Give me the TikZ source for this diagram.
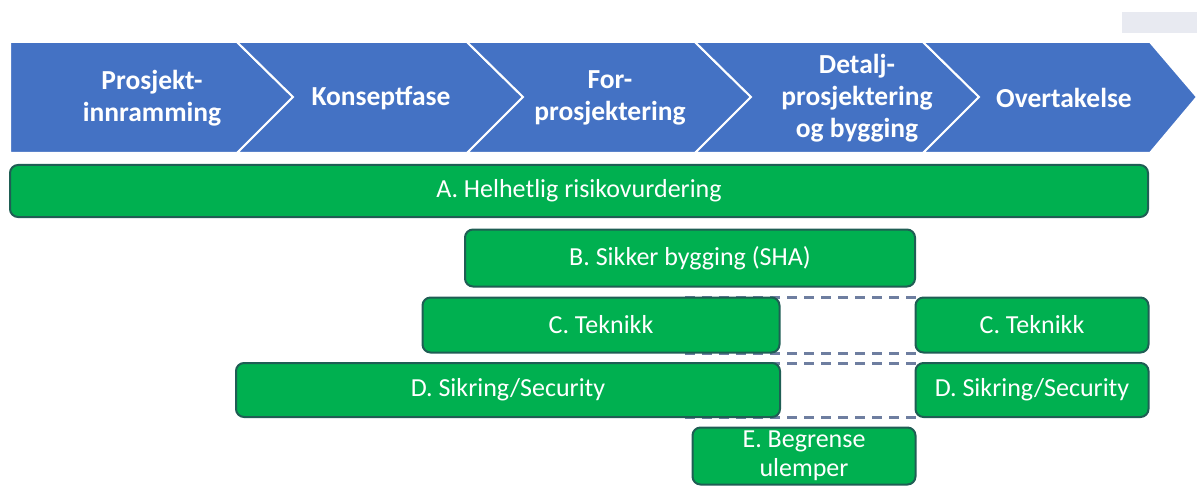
\documentclass[tikz,border=0pt]{standalone}
\usepackage{fontspec}
\setmainfont{Carlito}
\definecolor{phaseblue}{RGB}{68,114,196}
\definecolor{bargreen}{RGB}{0,176,80}
\definecolor{baredge}{RGB}{31,94,84}
\definecolor{dashgrey}{RGB}{110,126,160}
\definecolor{tabgrey}{RGB}{232,234,241}
\tikzset{
  phase/.style={fill=phaseblue, draw=white, line width=2pt, line join=miter},
  phasetext/.style={text=white, font=\bfseries\fontsize{27.5}{32}\selectfont, align=center},
  bar/.style={fill=bargreen, draw=baredge, line width=2pt, rounded corners=8pt,
    text=white, font=\fontsize{26}{29}\selectfont, align=center, inner sep=0pt},
  gapline/.style={draw=dashgrey, line width=3pt, dash pattern=on 10pt off 7pt}
}
\begin{document}
\begin{tikzpicture}[x=1pt,y=-1pt]
\useasboundingbox (0,0) rectangle (1197,500);
% grey tab top right
\fill[tabgrey] (1122,12) rectangle (1197,33);
% phases
\draw[phase] (10,42) -- (237,42) -- (293,97) -- (237,153) -- (10,153) -- cycle;
\draw[phase] (237,42) -- (467,42) -- (523,97) -- (467,153) -- (237,153) -- (293,97) -- cycle;
\draw[phase] (467,42) -- (695,42) -- (751,97) -- (695,153) -- (467,153) -- (523,97) -- cycle;
\draw[phase] (695,42) -- (923,42) -- (979,97) -- (923,153) -- (695,153) -- (751,97) -- cycle;
\draw[phase] (923,42) -- (1150,42) -- (1197,97) -- (1150,153) -- (923,153) -- (979,97) -- cycle;
\node[phasetext] (p1) at (152,98) {Prosjekt-\\innramming};
\node[phasetext] (p2) at (381,98) {Konseptfase};
\node[phasetext] (p3) at (610,98) {For-\\prosjektering};
\node[phasetext] (p4) at (857,98) {Detalj-\\prosjektering\\og bygging};
\node[phasetext] (p5) at (1064,98) {Overtakelse};
% dashed gaps
\coordinate (g1) at (685,297);
\coordinate (g2) at (685,353);
\coordinate (g3) at (685,363);
\coordinate (g4) at (685,417);
\coordinate (h1) at (916,297);
\coordinate (h2) at (916,353);
\coordinate (h3) at (916,363);
\coordinate (h4) at (916,417);
\draw[gapline] (g1) -- (h1);
\draw[gapline] (g2) -- (h2);
\draw[gapline] (g3) -- (h3);
\draw[gapline] (g4) -- (h4);
% activities
\node[bar, minimum width=1138pt, minimum height=52pt] (A) at (579,191) {A. Helhetlig risikovurdering};
\node[bar, minimum width=450pt, minimum height=57pt] (B) at (690,258) {B. Sikker bygging (SHA)};
\node[bar, minimum width=357pt, minimum height=55pt] (C1) at (601,325) {C. Teknikk};
\node[bar, minimum width=233pt, minimum height=55pt] (C2) at (1032,325) {C. Teknikk};
\node[bar, minimum width=544pt, minimum height=54pt] (D1) at (508,390) {D. Sikring/Security};
\node[bar, minimum width=233pt, minimum height=54pt] (D2) at (1032,390) {D. Sikring/Security};
\node[bar, minimum width=223pt, minimum height=57pt] (E) at (804,456) {E. Begrense\\ulemper};
\end{tikzpicture}
\end{document}
